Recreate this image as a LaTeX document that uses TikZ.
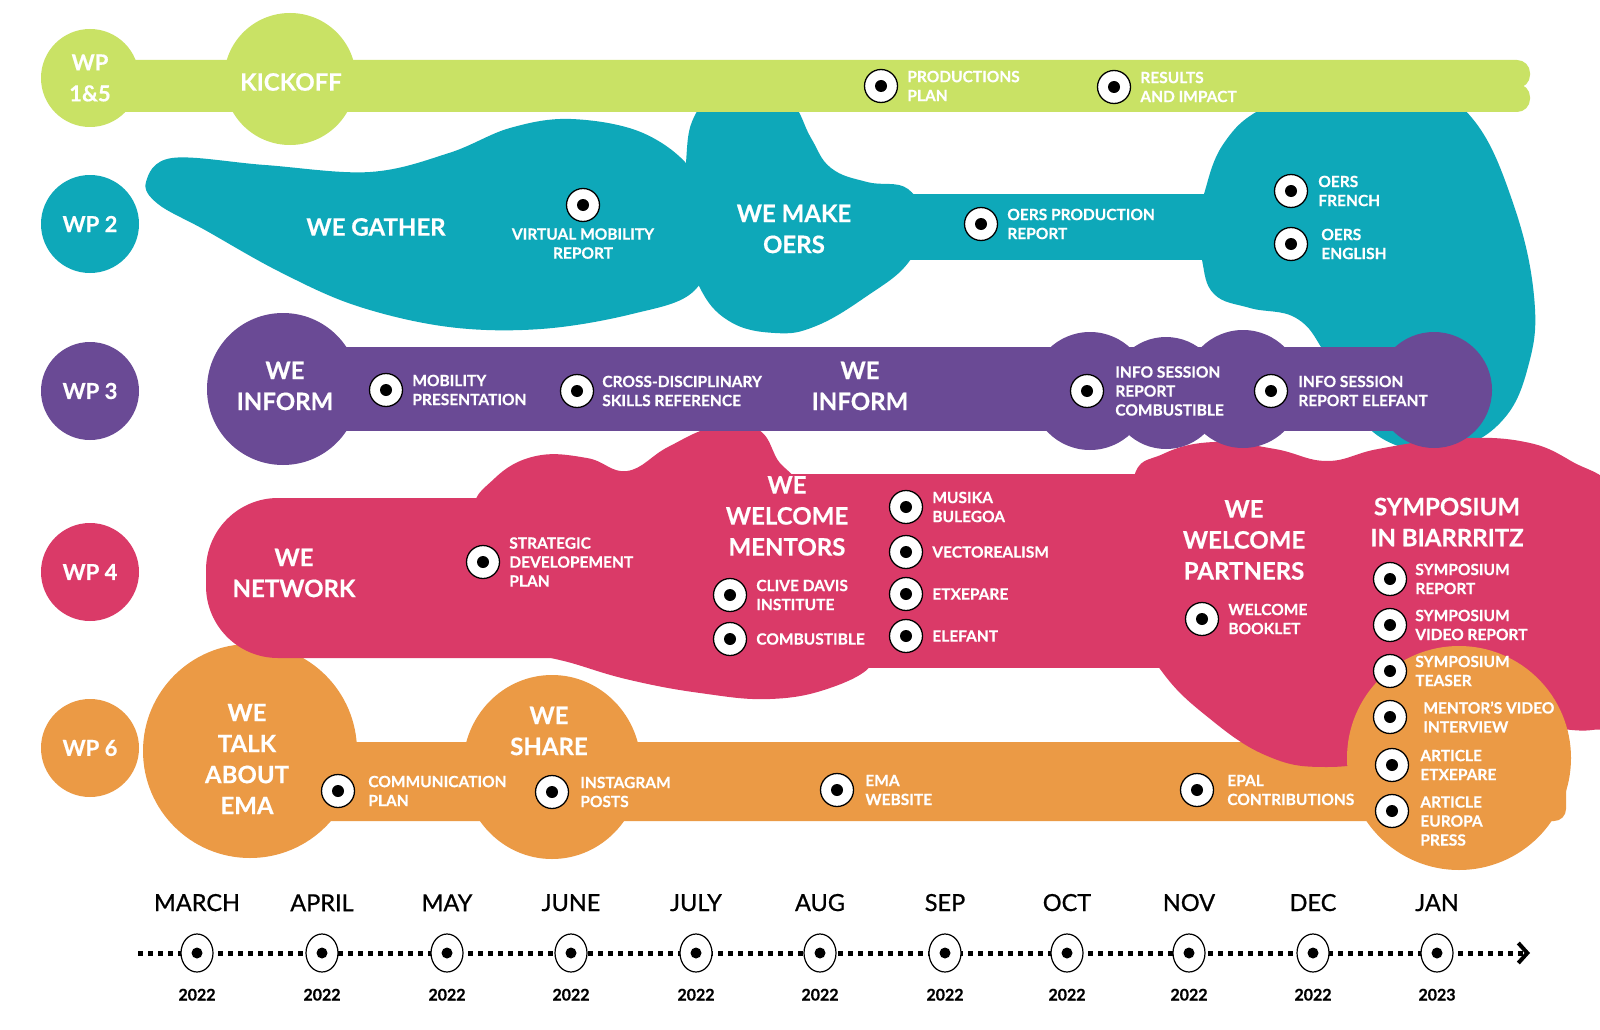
\documentclass[tikz,border=0pt]{standalone}
\usepackage{fontspec}
\setmainfont{Lato}[BoldFeatures={FakeBold=0.5}]
\newfontfamily\monthfont{Lato}[FakeBold=0.8]
\usepackage{tikz}
\usetikzlibrary{positioning, shapes.geometric, arrows.meta}
\definecolor{wpLime}{HTML}{C9E265}
\definecolor{wpTeal}{HTML}{0EA8B9}
\definecolor{wpPurple}{HTML}{6A4A95}
\definecolor{wpPink}{HTML}{DA3A68}
\definecolor{wpOrange}{HTML}{EB9A45}

\begin{document}
\begin{tikzpicture}[x=1pt, y=-1pt,
    eye/.style={circle, draw=black, line width=1.3pt, fill=white, minimum size=33pt, inner sep=0pt,
        path picture={\fill[black] (path picture bounding box.center) circle (6pt);}},
    mtick/.style={ellipse, draw=black, line width=1.2pt, fill=white, minimum width=32pt, minimum height=38pt, inner sep=0pt,
        path picture={\fill[black] (path picture bounding box.center) circle (5.5pt);}},
    lbl/.style={text=white, font=\bfseries\fontsize{15.5}{19}\selectfont, align=left, inner sep=0pt},
    big/.style={text=white, font=\bfseries\fontsize{24}{31}\selectfont, align=center, inner sep=0pt},
    wp/.style={circle, minimum size=98pt, text=white, font=\bfseries\fontsize{22}{31}\selectfont, align=center, inner sep=0pt},
    month/.style={font=\monthfont\fontsize{23.5}{28}\selectfont, inner sep=0pt},
    year/.style={font=\bfseries\fontsize{16}{19}\selectfont, inner sep=0pt},
    timeline/.style={line width=5pt, dash pattern=on 5pt off 5pt,
        -{Straight Barb[length=9pt, width=20pt, line width=4pt]}}]
    \useasboundingbox (0,0) rectangle (1600,1030);
    \clip (0,0) rectangle (1600,1030);
    \fill[white] (0,0) rectangle (1600,1030);

    % WP 2
    \fill[wpTeal] plot[smooth cycle, tension=0.6] coordinates {(172,158) (265,165) (370,172) (449,153) (510,128) (571,119) (643,133) (694,173) (714,235) (694,291) (632,314) (541,329) (449,327) (357,306) (280,272) (205,230) (158,204) (146,182)};
    \fill[wpTeal] plot[smooth cycle, tension=0.7] coordinates {(686,163) (694,117) (719,94) (755,89) (791,102) (811,138) (831,168) (867,182) (908,189) (923,224) (908,263) (867,296) (816,326) (775,333) (729,321) (699,286) (686,235)};
    \fill[wpTeal] (900,194) rectangle (1215,260);
    \fill[wpTeal] plot[smooth cycle, tension=0.7] coordinates {(1204,194) (1224,143) (1265,107) (1337,82) (1418,87) (1472,118) (1512,200) (1534,296) (1528,367) (1500,423) (1449,449) (1393,444) (1352,408) (1324,352) (1296,318) (1250,308) (1214,294) (1202,260) (1199,224)};

    % WP 1&5
    \fill[wpLime, rounded corners=13pt] (90,60) rectangle (1530,88);
    \fill[wpLime, rounded corners=13pt] (90,84) rectangle (1530,112);
    \fill[wpLime] (290,79) circle (66pt);

    % WP 6
    \fill[wpOrange] (250,751) circle (107pt);
    \fill[wpOrange] (552,767) ellipse (89pt and 92pt);
    \fill[wpOrange, rounded corners=12pt] (250,742) rectangle (1566,821);

    % WP 4
    \fill[wpPink, rounded corners=72pt] (206,498) rectangle (820,658);
    \fill[wpPink] (700,474) rectangle (1200,668);
    \fill[wpPink] plot[smooth cycle, tension=0.7] coordinates {(480,510) (495,478) (536,456) (587,458) (627,471) (668,447) (714,427) (757,429) (777,459) (791,490) (714,531) (561,531)};
    \fill[wpPink] plot[smooth cycle, tension=0.7] coordinates {(530,650) (575,664) (630,680) (700,693) (770,699) (830,688) (872,664) (860,640) (700,630) (560,636)};
    \fill[wpPink] plot[smooth cycle, tension=0.7] coordinates {(1133,480) (1163,454) (1214,442) (1275,449) (1327,461) (1378,449) (1449,439) (1520,441) (1571,461) (1620,500) (1640,612) (1625,714) (1592,730) (1531,727) (1469,735) (1408,755) (1327,767) (1265,755) (1204,714) (1163,673) (1143,633) (1133,571)};

    \fill[wpOrange] (1459,758) circle (112pt);

    % WP 3
    \fill[wpPurple] (283,389) circle (76pt);
    \fill[wpPurple] (283,347) rectangle (1434,431);
    \fill[wpPurple] (1090,391) circle (59pt);
    \fill[wpPurple] (1166,393) circle (56pt);
    \fill[wpPurple] (1243,389) circle (59pt);
    \fill[wpPurple] (1434,390) circle (58pt);

    \node[wp, fill=wpLime] (wp1) at (90,78) {WP\\1\&5};
    \node[wp, fill=wpTeal] (wp2) at (90,224) {WP 2};
    \node[wp, fill=wpPurple] (wp3) at (90,391) {WP 3};
    \node[wp, fill=wpPink] (wp4) at (90,572) {WP 4};
    \node[wp, fill=wpOrange] (wp6) at (90,748) {WP 6};

    \node[big] (kickoff) at (291,82) {KICKOFF};
    \node[big] (gather) at (376,227) {WE GATHER};
    \node[big] (make) at (794,229) {WE MAKE\\OERS};
    \node[big] (inform1) at (285,386) {WE\\INFORM};
    \node[big] (inform2) at (860,386) {WE\\INFORM};
    \node[big] (network) at (294,573) {WE\\NETWORK};
    \node[big] (mentors) at (787,516) {WE\\WELCOME\\MENTORS};
    \node[big] (partners) at (1244,540) {WE\\WELCOME\\PARTNERS};
    \node[big] (sympo) at (1447,522) {SYMPOSIUM\\IN BIARRRITZ};
    \node[big] (talk) at (247,759) {WE\\TALK\\ABOUT\\EMA};
    \node[big] (share) at (549,731) {WE\\SHARE};

    \node[eye] (mProd) at (881,86) {};
    \node[lbl, right=9pt of mProd] (tProd) {PRODUCTIONS\\PLAN};
    \node[eye] (mRes) at (1114,87) {};
    \node[lbl, right=9pt of mRes] (tRes) {RESULTS\\AND IMPACT};

    \node[eye] (mVirt) at (583,205) {};
    \node[lbl, align=center, below=6pt of mVirt] (tVirt) {VIRTUAL MOBILITY\\REPORT};
    \node[eye] (mOers) at (981,224) {};
    \node[lbl, right=9pt of mOers] (tOers) {OERS PRODUCTION\\REPORT};
    \node[eye] (mFrench) at (1291,191) {};
    \node[lbl, right=10pt of mFrench] (tFrench) {OERS\\FRENCH};
    \node[eye] (mEnglish) at (1291,244) {};
    \node[lbl, right=13pt of mEnglish] (tEnglish) {OERS\\ENGLISH};

    \node[eye] (mMob) at (386,390) {};
    \node[lbl, right=9pt of mMob] (tMob) {MOBILITY\\PRESENTATION};
    \node[eye] (mCross) at (577,391) {};
    \node[lbl, right=8pt of mCross] (tCross) {CROSS-DISCIPLINARY\\SKILLS REFERENCE};
    \node[eye] (mInfoC) at (1087,391) {};
    \node[lbl, right=11pt of mInfoC] (tInfoC) {INFO SESSION\\REPORT\\COMBUSTIBLE};
    \node[eye] (mInfoE) at (1271,391) {};
    \node[lbl, right=10pt of mInfoE] (tInfoE) {INFO SESSION\\REPORT ELEFANT};

    \node[eye] (mStrat) at (483,562) {};
    \node[lbl, right=9pt of mStrat] (tStrat) {STRATEGIC\\DEVELOPEMENT\\PLAN};
    \node[eye] (mClive) at (730,595) {};
    \node[lbl, right=9pt of mClive] (tClive) {CLIVE DAVIS\\INSTITUTE};
    \node[eye] (mComb) at (730,639) {};
    \node[lbl, right=9pt of mComb] (tComb) {COMBUSTIBLE};
    \node[eye] (mMusika) at (906,507) {};
    \node[lbl, right=9pt of mMusika] (tMusika) {MUSIKA\\BULEGOA};
    \node[eye] (mVector) at (906,552) {};
    \node[lbl, right=9pt of mVector] (tVector) {VECTOREALISM};
    \node[eye] (mEtx) at (906,594) {};
    \node[lbl, right=9pt of mEtx] (tEtx) {ETXEPARE};
    \node[eye] (mElef) at (906,636) {};
    \node[lbl, right=9pt of mElef] (tElef) {ELEFANT};
    \node[eye] (mBook) at (1202,619) {};
    \node[lbl, right=9pt of mBook] (tBook) {WELCOME\\BOOKLET};
    \node[eye] (mSymRep) at (1390,579) {};
    \node[lbl, right=8pt of mSymRep] (tSymRep) {SYMPOSIUM\\REPORT};
    \node[eye] (mSymVid) at (1390,625) {};
    \node[lbl, right=8pt of mSymVid] (tSymVid) {SYMPOSIUM\\VIDEO REPORT};
    \node[eye] (mTeaser) at (1390,671) {};
    \node[lbl, right=8pt of mTeaser] (tTeaser) {SYMPOSIUM\\TEASER};
    \node[eye] (mMentor) at (1390,717) {};
    \node[lbl, right=16pt of mMentor] (tMentor) {MENTOR'S VIDEO\\INTERVIEW};
    \node[eye] (mArtEtx) at (1392,765) {};
    \node[lbl, right=11pt of mArtEtx] (tArtEtx) {ARTICLE\\ETXEPARE};
    \node[eye] (mArtEu) at (1392,811) {};
    \node[lbl, right=11pt of mArtEu, yshift=-10pt] (tArtEu) {ARTICLE\\EUROPA\\PRESS};

    \node[eye] (mComm) at (338,791) {};
    \node[lbl, right=13pt of mComm] (tComm) {COMMUNICATION\\PLAN};
    \node[eye] (mInsta) at (552,792) {};
    \node[lbl, right=11pt of mInsta] (tInsta) {INSTAGRAM\\POSTS};
    \node[eye] (mWeb) at (837,790) {};
    \node[lbl, right=11pt of mWeb] (tWeb) {EMA\\WEBSITE};
    \node[eye] (mEpal) at (1197,790) {};
    \node[lbl, right=13pt of mEpal] (tEpal) {EPAL\\CONTRIBUTIONS};

    % timeline
    \coordinate (tStart) at (138,953);
    \coordinate (tEnd) at (1530,953);
    \draw[timeline] (tStart) -- (tEnd);
    \node[mtick] (mar) at (197,953) {};
    \node[mtick] (apr) at (322,953) {};
    \node[mtick] (may) at (447,953) {};
    \node[mtick] (jun) at (571,953) {};
    \node[mtick] (jul) at (696,953) {};
    \node[mtick] (aug) at (820,953) {};
    \node[mtick] (sep) at (945,953) {};
    \node[mtick] (oct) at (1067,953) {};
    \node[mtick] (nov) at (1189,953) {};
    \node[mtick] (dec) at (1313,953) {};
    \node[mtick] (jan) at (1437,953) {};
    \node[month, above=22pt of mar] {MARCH};
    \node[month, above=22pt of apr] {APRIL};
    \node[month, above=22pt of may] {MAY};
    \node[month, above=22pt of jun] {JUNE};
    \node[month, above=22pt of jul] {JULY};
    \node[month, above=22pt of aug] {AUG};
    \node[month, above=22pt of sep] {SEP};
    \node[month, above=22pt of oct] {OCT};
    \node[month, above=22pt of nov] {NOV};
    \node[month, above=22pt of dec] {DEC};
    \node[month, above=22pt of jan] {JAN};
    \node[year, below=16pt of mar] {2022};
    \node[year, below=16pt of apr] {2022};
    \node[year, below=16pt of may] {2022};
    \node[year, below=16pt of jun] {2022};
    \node[year, below=16pt of jul] {2022};
    \node[year, below=16pt of aug] {2022};
    \node[year, below=16pt of sep] {2022};
    \node[year, below=16pt of oct] {2022};
    \node[year, below=16pt of nov] {2022};
    \node[year, below=16pt of dec] {2022};
    \node[year, below=16pt of jan] {2023};
\end{tikzpicture}
\end{document}
